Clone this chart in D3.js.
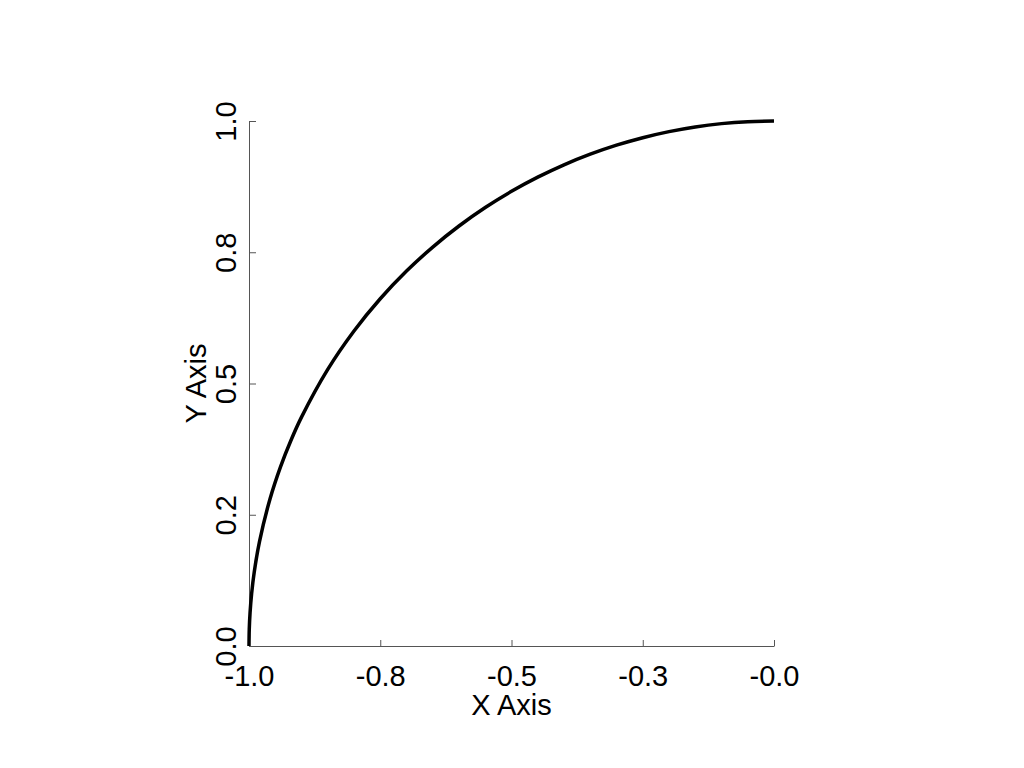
<!DOCTYPE html>
<html>
<head>
<meta charset="utf-8">
<script src="https://cdn.jsdelivr.net/npm/d3@7"></script>
<style>
  body { margin: 0; background: #fff; }
  svg { display: block; }
</style>
</head>
<body>
<svg id="chart" width="1024" height="768"></svg>
<script>
// values
var xValues = [-1, -0.9995, -0.998, -0.995, -0.99, -0.98, -0.96, -0.94, -0.92, -0.9, -0.85, -0.8, -0.75, -0.7, -0.65, -0.6, -0.55, -0.5, -0.45, -0.4, -0.35, -0.3, -0.25, -0.2, -0.15, -0.1, -0.05, 0];
var yValues = [0, 0.0316, 0.0632, 0.0999, 0.1411, 0.199, 0.28, 0.3412, 0.3919, 0.4359, 0.5268, 0.6, 0.6614, 0.7141, 0.7599, 0.8, 0.8352, 0.866, 0.893, 0.9165, 0.9367, 0.9539, 0.9682, 0.9798, 0.9887, 0.995, 0.9987, 1];

var xTicks = [-1, -0.75, -0.5, -0.25, 0];
var xTickLabels = ["-1.0", "-0.8", "-0.5", "-0.3", "-0.0"];
var yTicks = [0, 0.25, 0.5, 0.75, 1];
var yTickLabels = ["0.0", "0.2", "0.5", "0.8", "1.0"];

var plot = { left: 249, right: 774, top: 121, bottom: 646 };
var fontFamily = "'Liberation Sans', Arial, sans-serif";
var fontSize = "29px";

var svg = d3.select("#chart");

var x = d3.scaleLinear().domain([-1, 0]).range([plot.left, plot.right]);
var y = d3.scaleLinear().domain([0, 1]).range([plot.bottom, plot.top]);

// x axis, ticks pointing inward
var xAxis = svg
  .append("g")
  .attr("transform", "translate(0," + plot.bottom + ")")
  .call(
    d3.axisBottom(x)
      .tickValues(xTicks)
      .tickSizeInner(-6)
      .tickSizeOuter(0)
      .tickFormat(function (d, i) { return xTickLabels[i]; })
  );
xAxis.select(".domain").attr("stroke", "#555").attr("stroke-width", 1);
xAxis.selectAll(".tick line").attr("stroke", "#555");
xAxis.selectAll(".tick text")
  .attr("y", 40)
  .attr("dy", null)
  .attr("fill", "#000")
  .attr("font-family", fontFamily)
  .attr("font-size", fontSize);

// y axis, ticks pointing inward, labels rotated
var yAxis = svg
  .append("g")
  .attr("transform", "translate(" + plot.left + ",0)")
  .call(
    d3.axisLeft(y)
      .tickValues(yTicks)
      .tickSizeInner(-7)
      .tickSizeOuter(0)
      .tickFormat(function (d, i) { return yTickLabels[i]; })
  );
yAxis.select(".domain").attr("stroke", "#555").attr("stroke-width", 1);
yAxis.selectAll(".tick line").attr("stroke", "#555");
yAxis.selectAll(".tick text")
  .attr("x", null)
  .attr("dy", null)
  .attr("text-anchor", "middle")
  .attr("transform", "translate(-13,0) rotate(-90)")
  .attr("fill", "#000")
  .attr("font-family", fontFamily)
  .attr("font-size", fontSize);

// curve
var line = d3
  .line()
  .x(function (d, i) { return x(xValues[i]); })
  .y(function (d, i) { return y(yValues[i]); })
  .curve(d3.curveCatmullRom);

svg
  .append("path")
  .datum(xValues)
  .attr("d", line)
  .attr("fill", "none")
  .attr("stroke", "#000")
  .attr("stroke-width", 3.5);

// axis titles
svg
  .append("text")
  .attr("x", (plot.left + plot.right) / 2)
  .attr("y", 715)
  .attr("text-anchor", "middle")
  .attr("font-family", fontFamily)
  .attr("font-size", fontSize)
  .text("X Axis");

svg
  .append("text")
  .attr("transform", "translate(206," + (plot.top + plot.bottom) / 2 + ") rotate(-90)")
  .attr("text-anchor", "middle")
  .attr("font-family", fontFamily)
  .attr("font-size", fontSize)
  .text("Y Axis");
</script>
</body>
</html>
